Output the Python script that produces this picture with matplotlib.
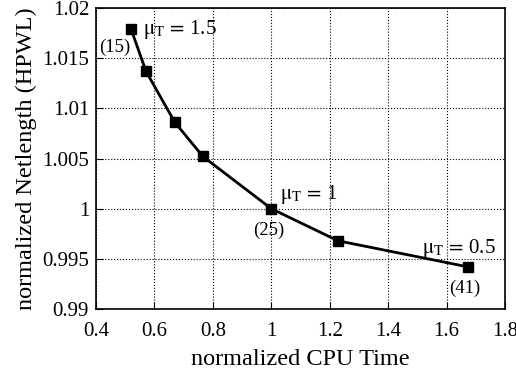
import matplotlib
matplotlib.use("Agg")
import matplotlib.pyplot as plt

plt.rcParams["font.family"] = ["Liberation Serif", "DejaVu Serif"]
plt.rcParams["mathtext.fontset"] = "stix"

cpu_time = [0.52, 0.571, 0.670, 0.766, 1.0, 1.228, 1.673]
netlength = [1.0179, 1.0137, 1.0086, 1.0052, 1.0, 0.9968, 0.9942]

x_ticks = [0.4, 0.6, 0.8, 1, 1.2, 1.4, 1.6, 1.8]
x_tick_labels = ["0.4", "0.6", "0.8", "1", "1.2", "1.4", "1.6", "1.8"]
y_ticks = [0.99, 0.995, 1.0, 1.005, 1.01, 1.015, 1.02]
y_tick_labels = ["0.99", "0.995", "1", "1.005", "1.01", "1.015", "1.02"]


def plot_data(outfile="out.png"):
    fig = plt.figure(figsize=(5.16, 3.79), dpi=100)
    ax = fig.add_axes([96 / 516, 70 / 379, 409 / 516, 301 / 379])
    ax.plot(cpu_time, netlength, color="black", linewidth=2,
            marker="s", markersize=7)
    ax.set_xlim(0.4, 1.8)
    ax.set_ylim(0.99, 1.02)
    ax.set_xticks(x_ticks)
    ax.set_xticklabels(x_tick_labels)
    ax.set_yticks(y_ticks)
    ax.set_yticklabels(y_tick_labels)
    ax.tick_params(direction="in", labelsize=15, length=5)
    ax.tick_params(axis="x", pad=9)
    ax.tick_params(axis="y", pad=5)
    ax.grid(True, linestyle=":", color="black", linewidth=0.8)
    for s in ax.spines.values():
        s.set_linewidth(1.2)
    ax.set_xlabel("normalized CPU Time", fontsize=17.5, labelpad=6)
    ax.set_ylabel("normalized Netlength (HPWL)", fontsize=17.5, labelpad=4)

    mu = r"$\mathrm{\mu}_{\mathrm{T}}\,{=}\,$"
    ax.text(cpu_time[0] + 0.04, netlength[0] - 0.0012, mu + "1.5",
            fontsize=15, ha="left", va="bottom")
    ax.text(cpu_time[0] - 0.002, netlength[0] - 0.001, "(15)",
            fontsize=13.5, ha="right", va="top")
    ax.text(cpu_time[4] + 0.03, netlength[4] + 0.0003, mu + "1",
            fontsize=15, ha="left", va="bottom")
    ax.text(cpu_time[4] - 0.01, netlength[4] - 0.0013, "(25)",
            fontsize=13.5, ha="center", va="top")
    ax.text(cpu_time[6] - 0.03, netlength[6] + 0.0007, mu + "0.5",
            fontsize=15, ha="center", va="bottom")
    ax.text(cpu_time[6] - 0.01, netlength[6] - 0.0013, "(41)",
            fontsize=13.5, ha="center", va="top")

    fig.savefig(outfile, dpi=100)


if __name__ == "__main__":
    plot_data()
